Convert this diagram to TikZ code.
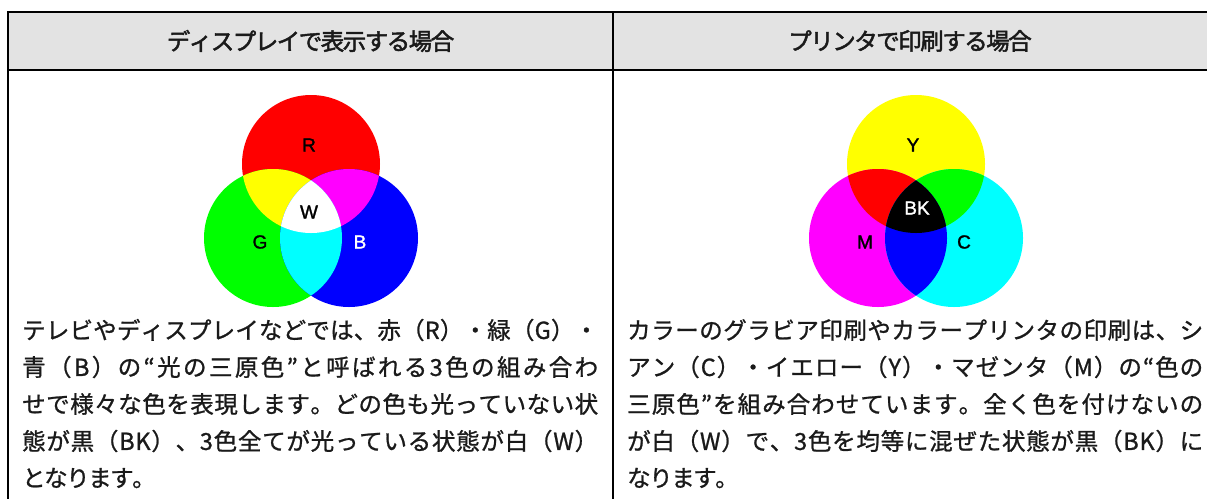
\documentclass[tikz,border=0pt]{standalone}
\usepackage{fontspec}
\newfontfamily\jp[FakeBold=1]{Noto Sans CJK JP}
\newfontfamily\jph[FakeBold=2]{Noto Sans CJK JP}
\newfontfamily\lab[FakeBold=1.5]{Liberation Sans}
\definecolor{headgray}{HTML}{E3E3E3}
\definecolor{txt}{HTML}{1A1A1A}
\definecolor{pR}{RGB}{255,0,0}
\definecolor{pG}{RGB}{0,255,0}
\definecolor{pB}{RGB}{0,0,255}
\definecolor{pC}{RGB}{0,255,255}
\definecolor{pM}{RGB}{255,0,255}
\definecolor{pY}{RGB}{255,255,0}
\definecolor{pW}{RGB}{255,255,255}
\definecolor{pK}{RGB}{0,0,0}
\def\jusend{}
\def\jus#1{\jusB#1\jusend}
\def\jusB#1#2{#1\ifx#2\jusend\else\hskip 0pt plus 1fil minus 4pt\relax\expandafter\jusB\expandafter#2\fi}
\newcommand{\jline}[1]{\hbox to 576pt{\jus{#1}}}
\newcommand{\jshort}[1]{\hbox{\jusC#1\jusend}}
\def\jusC#1#2{#1\ifx#2\jusend\else\hskip -1.5pt\relax\expandafter\jusC\expandafter#2\fi}
\tikzset{
  frame/.style={line width=2pt},
  head/.style={font=\jph\fontsize{23.5}{26}\selectfont, text=txt, inner sep=0pt},
  body/.style={font=\jp\fontsize{23.5}{26}\selectfont, text=txt, inner sep=0pt, anchor=west},
  lbl/.style={font=\lab\fontsize{19}{20}\selectfont, inner sep=0pt},
}
\begin{document}
\begin{tikzpicture}[x=1pt,y=-1pt]
\useasboundingbox (0,0) rectangle (1207,499);
% table
\fill[headgray] (8,12) rectangle (1207,70);
\draw[frame] (1207,12) -- (8,12) -- (8,499);
\draw[frame] (8,70) -- (1207,70);
\draw[frame] (613,12) -- (613,499);
% headers
\node[head] (h1) at (310.5,41) {\jshort{ディスプレイで表示する場合}};
\node[head] (h2) at (910,41) {\jshort{プリンタで印刷する場合}};
% RGB diagram
\def\rR{(311,164) circle[radius=69]}
\def\rG{(273,238) circle[radius=69]}
\def\rB{(349,238) circle[radius=69]}
\fill[pR] \rR;
\fill[pG] \rG;
\fill[pB] \rB;
\begin{scope}\clip \rR; \fill[pY] \rG; \fill[pM] \rB;\end{scope}
\begin{scope}\clip \rG; \fill[pC] \rB;\end{scope}
\begin{scope}\clip \rR; \clip \rG; \fill[pW] \rB;\end{scope}
\node[lbl] (R) at (309,145) {R};
\node[lbl] (W) at (309,212) {W};
\node[lbl] (G) at (260,242) {G};
\node[lbl,text=white] (B) at (360,242) {B};
% CMY diagram
\def\cY{(916,164) circle[radius=69]}
\def\cM{(878,238) circle[radius=69]}
\def\cC{(954,238) circle[radius=69]}
\fill[pY] \cY;
\fill[pM] \cM;
\fill[pC] \cC;
\begin{scope}\clip \cY; \fill[pR] \cM; \fill[pG] \cC;\end{scope}
\begin{scope}\clip \cM; \fill[pB] \cC;\end{scope}
\begin{scope}\clip \cY; \clip \cM; \fill[pK] \cC;\end{scope}
\node[lbl] (Y) at (913,145) {Y};
\node[lbl,text=white] (BK) at (917,208) {BK};
\node[lbl] (M) at (865,242) {M};
\node[lbl] (C) at (964,242) {C};
% body text left
\node[body] (l1) at (22,330) {\jline{テレビやディスプレイなどでは、赤（R）・緑（G）・}};
\node[body] (l2) at (22,367) {\jline{青（B）の“光の三原色”と呼ばれる3色の組み合わ}};
\node[body] (l3) at (22,404) {\jline{せで様々な色を表現します。どの色も光っていない状}};
\node[body] (l4) at (22,441) {\jline{態が黒（BK）、3色全てが光っている状態が白（W）}};
\node[body] (l5) at (22,478) {\jshort{となります。}};
% body text right
\node[body] (r1) at (627,330) {\jline{カラーのグラビア印刷やカラープリンタの印刷は、シ}};
\node[body] (r2) at (627,367) {\jline{アン（C）・イエロー（Y）・マゼンタ（M）の“色の}};
\node[body] (r3) at (627,404) {\jline{三原色”を組み合わせています。全く色を付けないの}};
\node[body] (r4) at (627,441) {\jline{が白（W）で、3色を均等に混ぜた状態が黒（BK）に}};
\node[body] (r5) at (627,478) {\jshort{なります。}};
\end{tikzpicture}
\end{document}
